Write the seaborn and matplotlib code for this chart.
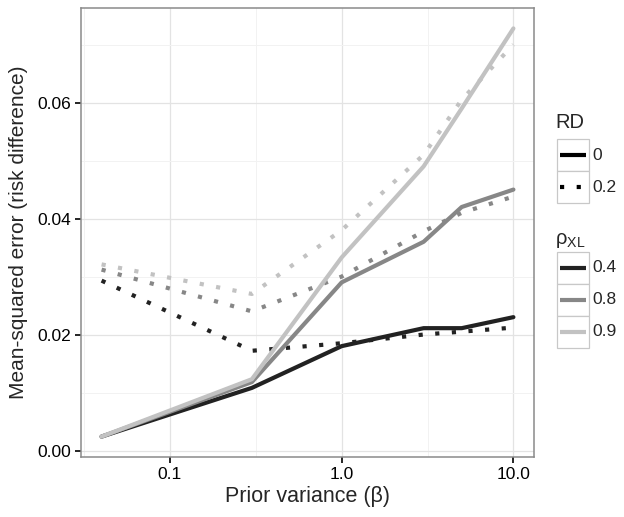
import matplotlib
matplotlib.use('Agg')
import matplotlib.pyplot as plt
import matplotlib.ticker as ticker
from matplotlib.patches import Rectangle
import numpy as np
import pandas as pd
import seaborn as sns

# Data
prior_var = [0.04, 0.3, 1, 3, 5, 10]
rd_levels = ['0', '0.2']
rho_levels = ['0.4', '0.8', '0.9']

mse_rd0_rho04 = [0.0024, 0.0108, 0.0180, 0.0211, 0.0211, 0.0230]
mse_rd0_rho08 = [0.0024, 0.0118, 0.0290, 0.0360, 0.0420, 0.0450]
mse_rd0_rho09 = [0.0024, 0.0123, 0.0333, 0.0490, 0.0590, 0.0728]
mse_rd02_rho04 = [0.0293, 0.0172, 0.0185, 0.0200, 0.0205, 0.0212]
mse_rd02_rho08 = [0.0312, 0.0240, 0.0300, 0.0378, 0.0410, 0.0438]
mse_rd02_rho09 = [0.0321, 0.0270, 0.0380, 0.0510, 0.0605, 0.0700]

series = {
    ('0', '0.4'): mse_rd0_rho04,
    ('0', '0.8'): mse_rd0_rho08,
    ('0', '0.9'): mse_rd0_rho09,
    ('0.2', '0.4'): mse_rd02_rho04,
    ('0.2', '0.8'): mse_rd02_rho08,
    ('0.2', '0.9'): mse_rd02_rho09,
}
rows = []
for (rd, rho), vals in series.items():
    for x, y in zip(prior_var, vals):
        rows.append({'beta': x, 'mse': y, 'RD': rd, 'rho': rho})
df = pd.DataFrame(rows)

palette = {'0.4': '#222222', '0.8': '#878787', '0.9': '#c2c2c2'}
dashes = {'0': '', '0.2': (1, 3)}

sns.set_style('white')
plt.rcParams['font.family'] = ['Liberation Sans', 'DejaVu Sans']
plt.rcParams['mathtext.fontset'] = 'custom'
plt.rcParams['mathtext.rm'] = 'Liberation Sans'

W, H = 624, 517
fig = plt.figure(figsize=(W / 100, H / 100), dpi=100)
ax = fig.add_axes([81 / W, (H - 457) / H, 453 / W, 449 / H])

sns.lineplot(data=df, x='beta', y='mse', hue='rho', style='RD',
             palette=palette, dashes=dashes, hue_order=rho_levels,
             style_order=rd_levels, estimator=None, sort=True,
             linewidth=3.0, legend=False, ax=ax)

ax.set_xscale('log')
lx = np.log10([min(prior_var), max(prior_var)])
pad = (lx[1] - lx[0]) * 0.05
ax.set_xlim(10 ** (lx[0] - pad), 10 ** (lx[1] + pad))
all_y = df['mse']
ypad = (all_y.max() - all_y.min()) * 0.05
ax.set_ylim(all_y.min() - ypad, all_y.max() + ypad)

ax.set_xticks([0.1, 1, 10])
ax.set_xticklabels(['0.1', '1.0', '10.0'])
ax.xaxis.set_minor_locator(ticker.FixedLocator([10 ** -1.5, 10 ** -0.5, 10 ** 0.5]))
ax.xaxis.set_minor_formatter(ticker.NullFormatter())
ax.set_yticks([0.0, 0.02, 0.04, 0.06])
ax.set_yticklabels(['0.00', '0.02', '0.04', '0.06'])
ax.yaxis.set_minor_locator(ticker.FixedLocator([0.01, 0.03, 0.05, 0.07]))

ax.grid(True, which='major', color='#e3e3e3', linewidth=0.9, zorder=0)
ax.grid(True, which='minor', color='#f2f2f2', linewidth=0.7, zorder=0)
ax.set_axisbelow(True)
for s in ax.spines.values():
    s.set_color('#8a8a8a')
    s.set_linewidth(1.1)
ax.tick_params(which='major', length=4, width=1.2, color='black',
               labelsize=12.5, labelcolor='black', pad=3, bottom=True, left=True)
ax.tick_params(which='minor', length=0)

ax.set_xlabel('Prior variance (β)', fontsize=15.5, labelpad=3)
ax.set_ylabel('Mean-squared error (risk difference)', fontsize=15, labelpad=7)

# Legend drawn in pixel coordinates
lax = fig.add_axes([0, 0, 1, 1])
lax.set_xlim(0, W)
lax.set_ylim(H, 0)
lax.axis('off')
lax.patch.set_visible(False)

def key_box(y0, color, ls):
    lax.add_patch(Rectangle((557, y0), 32, 32, facecolor='white',
                            edgecolor='#c8c8c8', linewidth=0.9))
    lax.plot([560, 586], [y0 + 16, y0 + 16], color=color, linewidth=3.0,
             linestyle='-' if ls == '' else (0, ls), solid_capstyle='butt')

lax.text(555, 123, 'RD', fontsize=14.5, va='center', ha='left')
for i, rd in enumerate(rd_levels):
    y0 = 139 + i * 32
    key_box(y0, 'black', dashes[rd])
    lax.text(592, y0 + 16, rd, fontsize=12.5, va='center', ha='left')

lax.text(555, 240, 'ρ$_{\\mathrm{XL}}$', fontsize=14.5, va='center', ha='left')
for i, rho in enumerate(rho_levels):
    y0 = 252 + i * 32
    key_box(y0, palette[rho], '')
    lax.text(592, y0 + 16, rho, fontsize=12.5, va='center', ha='left')

fig.savefig('out.png', dpi=100)
